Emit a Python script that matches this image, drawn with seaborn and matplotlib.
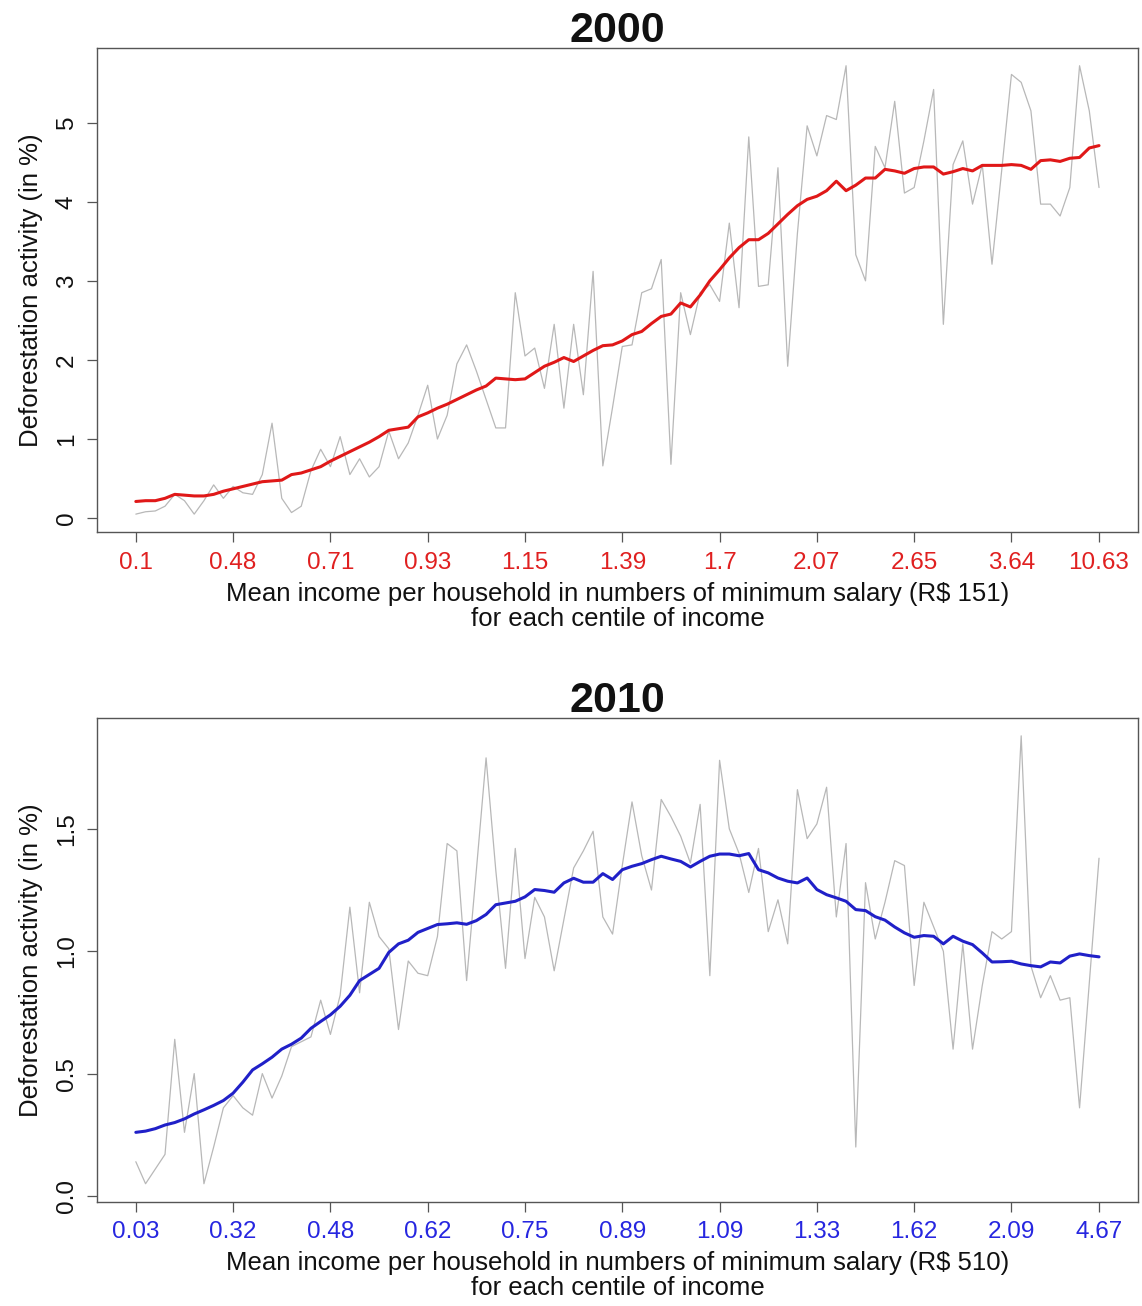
import matplotlib.pyplot as plt
import numpy as np
import pandas as pd
import seaborn as sns

# centiles of income (x) and tick labels (mean income in minimum salaries)
centile = np.arange(1, 101)
tick_centiles = [1, 11, 21, 31, 41, 51, 61, 71, 81, 91, 100]
income_2000 = ["0.1", "0.48", "0.71", "0.93", "1.15", "1.39", "1.7", "2.07", "2.65", "3.64", "10.63"]
income_2010 = ["0.03", "0.32", "0.48", "0.62", "0.75", "0.89", "1.09", "1.33", "1.62", "2.09", "4.67"]

# deforestation activity (in %) per centile, raw and smoothed
raw_2000 = [
    0.05, 0.08, 0.09, 0.15, 0.30, 0.22, 0.05, 0.22, 0.42, 0.25,
    0.40, 0.32, 0.30, 0.55, 1.20, 0.25, 0.07, 0.15, 0.60, 0.87,
    0.65, 1.03, 0.55, 0.75, 0.52, 0.65, 1.10, 0.75, 0.95, 1.30,
    1.68, 1.00, 1.30, 1.95, 2.19, 1.86, 1.50, 1.14, 1.14, 2.85,
    2.05, 2.15, 1.64, 2.45, 1.39, 2.45, 1.56, 3.12, 0.66, 1.40,
    2.17, 2.19, 2.85, 2.90, 3.27, 0.68, 2.85, 2.32, 2.85, 2.95,
    2.74, 3.73, 2.66, 4.82, 2.93, 2.95, 4.43, 1.92, 3.60, 4.96,
    4.58, 5.09, 5.04, 5.72, 3.33, 3.00, 4.70, 4.43, 5.27, 4.11,
    4.18, 4.77, 5.42, 2.45, 4.47, 4.77, 3.97, 4.47, 3.21, 4.40,
    5.61, 5.51, 5.15, 3.97, 3.97, 3.82, 4.18, 5.72, 5.15, 4.18,
]
smooth_2000 = [
    0.21, 0.22, 0.22, 0.25, 0.30, 0.29, 0.28, 0.28, 0.30, 0.34,
    0.37, 0.40, 0.43, 0.46, 0.47, 0.48, 0.55, 0.57, 0.61, 0.65,
    0.72, 0.78, 0.84, 0.90, 0.96, 1.03, 1.11, 1.13, 1.15, 1.28,
    1.33, 1.39, 1.44, 1.50, 1.56, 1.62, 1.67, 1.77, 1.76, 1.75,
    1.76, 1.84, 1.92, 1.97, 2.03, 1.98, 2.05, 2.12, 2.18, 2.19,
    2.24, 2.32, 2.36, 2.46, 2.55, 2.58, 2.72, 2.67, 2.82, 3.00,
    3.14, 3.29, 3.42, 3.52, 3.52, 3.60, 3.72, 3.84, 3.95, 4.03,
    4.07, 4.14, 4.26, 4.14, 4.21, 4.30, 4.30, 4.41, 4.39, 4.36,
    4.42, 4.44, 4.44, 4.35, 4.38, 4.42, 4.39, 4.46, 4.46, 4.46,
    4.47, 4.46, 4.41, 4.52, 4.53, 4.51, 4.55, 4.56, 4.68, 4.71,
]
raw_2010 = [
    0.14, 0.05, 0.11, 0.17, 0.64, 0.26, 0.50, 0.05, 0.20, 0.36,
    0.41, 0.36, 0.33, 0.50, 0.40, 0.49, 0.61, 0.63, 0.65, 0.80,
    0.66, 0.82, 1.18, 0.83, 1.20, 1.06, 1.01, 0.68, 0.96, 0.91,
    0.90, 1.06, 1.44, 1.41, 0.88, 1.33, 1.79, 1.33, 0.93, 1.42,
    0.97, 1.22, 1.14, 0.92, 1.13, 1.34, 1.41, 1.49, 1.14, 1.07,
    1.35, 1.61, 1.39, 1.25, 1.62, 1.55, 1.47, 1.36, 1.60, 0.90,
    1.78, 1.50, 1.40, 1.24, 1.42, 1.08, 1.21, 1.03, 1.66, 1.46,
    1.52, 1.67, 1.14, 1.44, 0.20, 1.28, 1.05, 1.20, 1.37, 1.35,
    0.86, 1.20, 1.10, 1.00, 0.60, 1.03, 0.60, 0.86, 1.08, 1.05,
    1.08, 1.88, 0.94, 0.81, 0.90, 0.80, 0.81, 0.36, 0.87, 1.38,
]
smooth_2010 = [
    0.260, 0.265, 0.275, 0.290, 0.300, 0.315, 0.335, 0.352, 0.370, 0.390,
    0.420, 0.465, 0.515, 0.540, 0.567, 0.600, 0.620, 0.645, 0.685, 0.713,
    0.740, 0.775, 0.820, 0.880, 0.905, 0.930, 0.995, 1.030, 1.045, 1.077,
    1.093, 1.109, 1.112, 1.116, 1.110, 1.125, 1.150, 1.190, 1.197, 1.204,
    1.222, 1.252, 1.248, 1.241, 1.279, 1.298, 1.282, 1.282, 1.317, 1.293,
    1.333, 1.347, 1.358, 1.374, 1.388, 1.377, 1.367, 1.344, 1.367, 1.388,
    1.397, 1.397, 1.390, 1.399, 1.333, 1.320, 1.299, 1.286, 1.279, 1.299,
    1.252, 1.231, 1.218, 1.204, 1.170, 1.166, 1.141, 1.127, 1.099, 1.075,
    1.057, 1.064, 1.061, 1.030, 1.061, 1.041, 1.027, 0.993, 0.956, 0.957,
    0.959, 0.948, 0.941, 0.936, 0.956, 0.952, 0.980, 0.989, 0.982, 0.977,
]

sns.set_theme(style="white")
plt.rcParams["font.family"] = ["Liberation Sans", "DejaVu Sans"]
plt.rcParams["text.color"] = "#111111"
plt.rcParams["axes.labelcolor"] = "#111111"
plt.rcParams["ytick.labelcolor"] = "#111111"

FRAME = "#555555"


def draw_panel(ax, raw, smooth, labels, color, tick_color, title, salary, yticks, yfmt):
    df = pd.DataFrame({"centile": centile, "raw": raw, "smooth": smooth})
    sns.lineplot(data=df, x="centile", y="raw", color="#b8b8b8", lw=0.9, ax=ax)
    sns.lineplot(data=df, x="centile", y="smooth", color=color, lw=2.2, ax=ax)

    # R-style 4% padding around the data range
    ax.set_xlim(1 - 0.04 * 99, 100 + 0.04 * 99)
    lo, hi = min(raw), max(raw)
    pad = 0.04 * (hi - lo)
    ax.set_ylim(lo - pad, hi + pad)

    ax.set_xticks(tick_centiles)
    ax.set_xticklabels(labels, color=tick_color)
    ax.set_yticks(yticks)
    ax.set_yticklabels([yfmt.format(v) for v in yticks], rotation=90, va="center")
    ax.tick_params(axis="both", direction="out", length=7, width=0.9, color=FRAME,
                   labelsize=17.5, bottom=True, left=True)
    ax.tick_params(axis="x", pad=7)
    ax.tick_params(axis="y", pad=7)

    for s in ax.spines.values():
        s.set_color(FRAME)
        s.set_linewidth(1.0)

    ax.set_title(title, fontsize=31, fontweight="bold", pad=4)
    ax.set_xlabel(f"Mean income per household in numbers of minimum salary (R\\$ {salary})\n"
                  "for each centile of income", fontsize=18.5, linespacing=1.05, labelpad=6)
    ax.set_ylabel("Deforestation activity (in %)", fontsize=18.5, labelpad=9)


fig = plt.figure(figsize=(11.42, 13.06), dpi=100)
ax_top = fig.add_axes([0.0852, 0.5926, 0.9109, 0.3708])
ax_bot = fig.add_axes([0.0852, 0.0799, 0.9109, 0.3704])

draw_panel(ax_top, raw_2000, smooth_2000, income_2000, "#e01818", "#e02020",
           "2000", 151, [0, 1, 2, 3, 4, 5], "{:.0f}")
draw_panel(ax_bot, raw_2010, smooth_2010, income_2010, "#2020c8", "#2626e0",
           "2010", 510, [0.0, 0.5, 1.0, 1.5], "{:.1f}")

fig.savefig("out.png", dpi=100)
